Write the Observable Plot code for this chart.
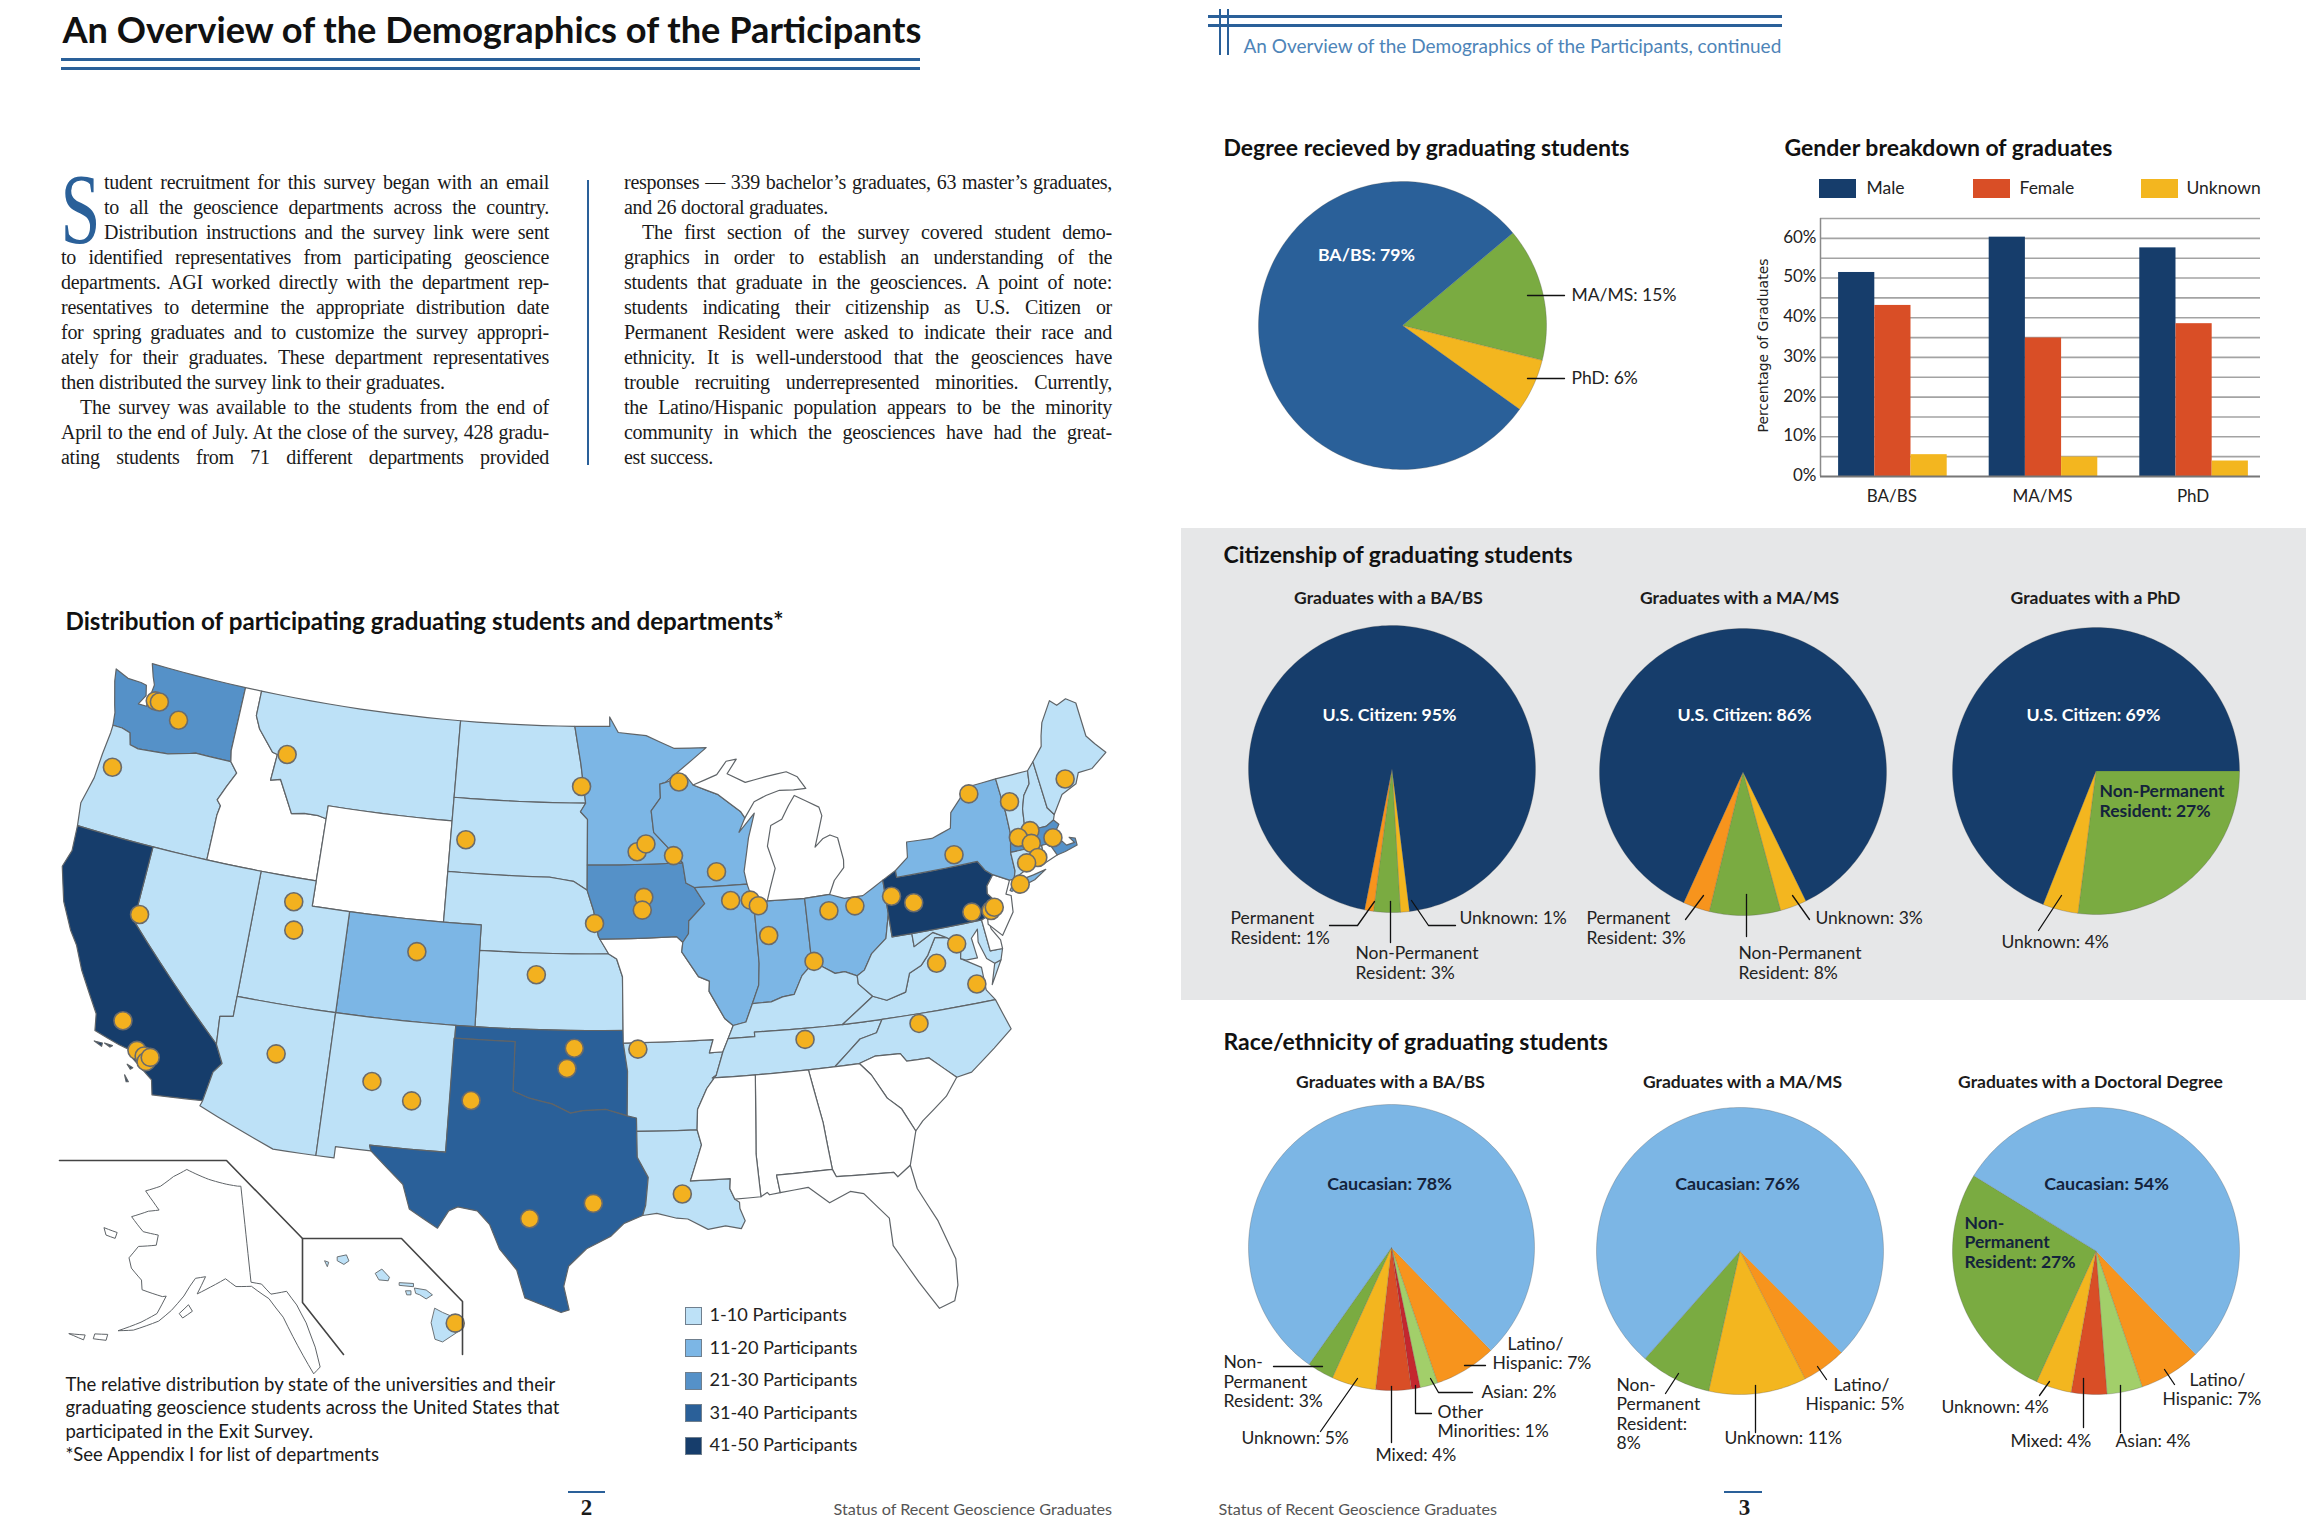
<!DOCTYPE html>
<html><head><meta charset="utf-8">
<script src="https://cdn.jsdelivr.net/npm/d3@7"></script>
<script src="https://cdn.jsdelivr.net/npm/@observablehq/plot@0.6"></script>
<style>
html,body{margin:0;padding:0;background:#fff;overflow:hidden}
#page{position:relative;width:2306px;height:1530px;overflow:hidden;background:#fff}
#page>div.abs{position:absolute}
#page svg{background:transparent;max-width:none}
.ln{position:absolute;font-family:"Liberation Serif",serif;font-size:20px;letter-spacing:-.27px;line-height:25px;white-space:nowrap;color:#1a1a1a;text-align:justify;text-align-last:justify}
.ln.end{text-align-last:left}
</style></head><body><div id="page"></div>
<script>
/* ---------- values ---------- */
const degreeCategories=["MA/MS","PhD","BA/BS"];
const degreeValues=[15,6,79];
const genderDegrees=["BA/BS","MA/MS","PhD"];
const genderNames=["Male","Female","Unknown"];
const genderMale=[51.4,60.3,57.6];
const genderFemale=[43.1,34.9,38.5];
const genderUnknown=[5.5,4.9,3.9];
const citizenCategoriesA=["Unknown","Non-Permanent Resident","Permanent Resident","U.S. Citizen"];
const citizenBA=[1,3,1,95];
const citizenMA=[3,8,3,86];
const citizenCategoriesB=["Non-Permanent Resident","Unknown","U.S. Citizen"];
const citizenPhD=[27,4,69];
const raceCategoriesBA=["Latino/Hispanic","Asian","Other Minorities","Mixed","Unknown","Non-Permanent Resident","Caucasian"];
const raceBA=[7,2,1,4,5,3,78];
const raceCategoriesMA=["Latino/Hispanic","Unknown","Non-Permanent Resident","Caucasian"];
const raceMA=[5,11,8,76];
const raceCategoriesPhD=["Latino/Hispanic","Asian","Mixed","Unknown","Non-Permanent Resident","Caucasian"];
const racePhD=[7,4,4,4,27,54];

const bodyLeft=[["tudent recruitment for this survey began with an email",104,0],["to all the geoscience departments across the country.",104,0],["Distribution instructions and the survey link were sent",104,0],["to identified representatives from participating geoscience",61,0],["departments. AGI worked directly with the department rep-",61,0],["resentatives to determine the appropriate distribution date",61,0],["for spring graduates and to customize the survey appropri-",61,0],["ately for their graduates. These department representatives",61,0],["then distributed the survey link to their graduates.",61,1],["The survey was available to the students from the end of",80,0],["April to the end of July. At the close of the survey, 428 gradu-",61,0],["ating students from 71 different departments provided",61,0]];
const bodyRight=[["responses — 339 bachelor’s graduates, 63 master’s graduates,",624,0],["and 26 doctoral graduates.",624,1],["The first section of the survey covered student demo-",642,0],["graphics in order to establish an understanding of the",624,0],["students that graduate in the geosciences. A point of note:",624,0],["students indicating their citizenship as U.S. Citizen or",624,0],["Permanent Resident were asked to indicate their race and",624,0],["ethnicity. It is well-understood that the geosciences have",624,0],["trouble recruiting underrepresented minorities. Currently,",624,0],["the Latino/Hispanic population appears to be the minority",624,0],["community in which the geosciences have had the great-",624,0],["est success.",624,1]];

const binNames=["1-10 Participants","11-20 Participants","21-30 Participants","31-40 Participants","41-50 Participants"];
const binColors=["#BDE1F7","#7CB6E5","#5591C8","#2A6099","#163D6B"];
const stateBins={OR:0,MT:0,ND:0,SD:0,NE:0,KS:0,NV:0,UT:0,AZ:0,NM:0,AR:0,LA:0,TN:0,KY:0,NC:0,VA:0,WV:0,ME:0,NH:0,VT:0,MD:0,CT:0,MN:1,WI:1,IL:1,IN:1,OH:1,NY:1,CO:1,WA:2,IA:2,MA:2,TX:3,OK:3,CA:4,PA:4};

/* state outlines, lon/lat */
const stateRings={
WA:[[[-124.73,48.38],[-123.9,48.16],[-123.1,48.15],[-122.75,48.1],[-122.6,47.7],[-122.9,47.3],[-122.4,47.3],[-122.35,47.8],[-122.3,48.2],[-122.5,48.5],[-122.77,49],[-117.03,49],[-117.04,46.42],[-116.92,45.99],[-118.98,46],[-119.3,45.93],[-120.5,45.7],[-121.2,45.65],[-122.2,45.58],[-122.7,45.65],[-122.9,46.1],[-123.4,46.2],[-123.95,46.2],[-124.05,46.7],[-124.2,47],[-124.6,47.9]]],
OR:[[[-123.95,46.2],[-123.4,46.2],[-122.9,46.1],[-122.7,45.65],[-122.2,45.58],[-121.2,45.65],[-120.5,45.7],[-119.3,45.93],[-118.98,46],[-116.92,45.99],[-116.46,45.6],[-116.85,45],[-117.2,44.4],[-116.95,44.2],[-117.03,43.8],[-117.03,42],[-124.21,42],[-124.4,42.9],[-124.1,44],[-124.05,45],[-123.95,45.9]]],
ID:[[[-117.03,49],[-116.05,49],[-116.05,48],[-115.7,47.5],[-114.7,46.7],[-114.4,46.65],[-114.5,45.6],[-113.95,45.7],[-113.45,45.05],[-113,44.45],[-112.3,44.55],[-111.5,44.55],[-111.05,44.48],[-111.05,42],[-117.03,42],[-117.03,43.8],[-116.95,44.2],[-117.2,44.4],[-116.85,45],[-116.46,45.6],[-116.92,45.99],[-117.04,46.42]]],
MT:[[[-116.05,49],[-104.05,49],[-104.05,45],[-111.05,45],[-111.05,44.48],[-111.5,44.55],[-112.3,44.55],[-113,44.45],[-113.45,45.05],[-113.95,45.7],[-114.5,45.6],[-114.4,46.65],[-114.7,46.7],[-115.7,47.5],[-116.05,48]]],
WY:[[[-111.05,45],[-104.05,45],[-104.05,41],[-111.05,41]]],
ND:[[[-104.05,49],[-97.23,49],[-96.85,47.5],[-96.56,45.94],[-104.05,45.94]]],
SD:[[[-104.05,45.94],[-96.56,45.94],[-96.85,45.6],[-96.45,45.3],[-96.45,43.5],[-96.45,42.5],[-97.2,42.85],[-98.5,42.99],[-104.05,43]]],
NE:[[[-104.05,43],[-98.5,43],[-97.2,42.85],[-96.45,42.5],[-96.1,41.7],[-95.85,40.7],[-95.31,40],[-102.05,40],[-102.05,41],[-104.05,41]]],
KS:[[[-102.05,40],[-95.31,40],[-94.9,39.8],[-94.61,39.1],[-94.62,37],[-102.04,37]]],
CO:[[[-109.05,41],[-102.05,41],[-102.04,37],[-109.05,37]]],
UT:[[[-114.05,42],[-111.05,42],[-111.05,41],[-109.05,41],[-109.05,37],[-114.05,37]]],
NV:[[[-120,42],[-114.05,42],[-114.05,36.2],[-114.7,36.1],[-114.6,35],[-120,39]]],
CA:[[[-124.21,42],[-120,42],[-120,39],[-114.6,35],[-114.15,34.3],[-114.5,33.9],[-114.72,32.72],[-117.12,32.53],[-117.3,33.1],[-118.4,33.75],[-118.5,34.03],[-119.2,34.15],[-120.5,34.45],[-120.65,35.1],[-121.9,36.6],[-122.5,37.5],[-123,38],[-123.75,39],[-124.35,40.3],[-124.1,41]],[[-120.4,34.05],[-120,34.05],[-120,33.92]],[[-119.9,34.07],[-119.5,34.05],[-119.6,33.97]],[[-118.6,33.48],[-118.3,33.4],[-118.4,33.32]],[[-118.6,33.05],[-118.35,32.82],[-118.45,32.8]]],
AZ:[[[-114.05,37],[-109.05,37],[-109.05,31.33],[-111.07,31.33],[-114.8,32.5],[-114.72,32.72],[-114.5,33.9],[-114.15,34.3],[-114.6,35],[-114.7,36.1],[-114.05,36.2]]],
NM:[[[-109.05,37],[-103,37],[-103.04,32],[-106.62,32],[-106.53,31.78],[-108.2,31.78],[-108.2,31.33],[-109.05,31.33]]],
OK:[[[-103,37],[-94.62,37],[-94.43,35.4],[-94.48,33.64],[-95.5,33.9],[-96.6,33.85],[-97.2,33.75],[-98.1,34.1],[-99.2,34.3],[-100,34.56],[-100,36.5],[-103,36.5]]],
TX:[[[-103.04,36.5],[-100,36.5],[-100,34.56],[-99.2,34.3],[-98.1,34.1],[-97.2,33.75],[-96.6,33.85],[-95.5,33.9],[-94.48,33.64],[-94.04,33.55],[-94.04,32],[-93.55,31.2],[-93.7,30.1],[-93.85,29.7],[-94.7,29.4],[-95.3,28.9],[-96.4,28.4],[-97.2,27.7],[-97.4,26.9],[-97.15,25.96],[-97.5,25.85],[-99.1,26.4],[-99.5,27.5],[-100.3,28.3],[-100.8,29.25],[-101.4,29.77],[-102.3,29.88],[-102.7,29.7],[-103.15,28.98],[-104.5,29.65],[-104.9,30.6],[-106.53,31.78],[-106.62,32],[-103.04,32]]],
AR:[[[-94.62,36.5],[-90.15,36.5],[-90.37,35.99],[-89.7,36],[-90.1,35.1],[-90.6,34.6],[-91.1,33.8],[-91.17,33],[-94.04,33.02],[-94.04,33.55],[-94.48,33.64],[-94.43,35.4]]],
LA:[[[-94.04,33.02],[-91.17,33],[-91,32.4],[-91.6,31],[-89.75,31],[-89.8,30.6],[-89.6,30.18],[-89.4,30.05],[-89.4,29.8],[-89.2,29.3],[-89.4,29],[-90.1,29.15],[-90.9,29.05],[-91.8,29.5],[-92.3,29.55],[-93.2,29.77],[-93.85,29.7],[-93.7,30.1],[-93.55,31.2],[-94.04,32]]],
MO:[[[-95.77,40.58],[-91.73,40.61],[-91.42,40.38],[-91.5,40],[-90.7,39],[-90.15,38.8],[-90.2,38.4],[-89.5,37.3],[-89.1,37],[-89.4,36.5],[-89.7,36],[-90.37,35.99],[-90.15,36.5],[-94.62,36.5],[-94.62,37],[-94.61,39.1],[-94.9,39.8],[-95.31,40]]],
IA:[[[-96.45,43.5],[-91.22,43.5],[-91.1,42.7],[-90.65,42.5],[-90.15,41.85],[-91.05,41.2],[-91.1,40.7],[-91.42,40.38],[-91.73,40.61],[-95.77,40.58],[-95.85,40.7],[-96.1,41.7],[-96.45,42.5]]],
MN:[[[-97.23,49],[-95.15,49],[-95.15,49.38],[-94.65,48.75],[-93,48.6],[-91.4,48.05],[-89.5,48],[-92,46.7],[-92.3,46.65],[-92.3,46.1],[-92.85,45.6],[-92.75,44.75],[-91.22,43.5],[-96.45,43.5],[-96.45,45.3],[-96.85,45.6],[-96.56,45.94],[-96.85,47.5]]],
WI:[[[-92,46.7],[-90.8,46.95],[-90.4,46.55],[-89,46.1],[-87.8,45.35],[-87.6,45.1],[-88,44.55],[-87.05,45.25],[-87.5,44.3],[-87.9,43],[-87.8,42.49],[-90.65,42.5],[-91.1,42.7],[-91.22,43.5],[-92.75,44.75],[-92.85,45.6],[-92.3,46.1],[-92.3,46.65]]],
IL:[[[-90.65,42.5],[-87.8,42.49],[-87.53,41.72],[-87.53,39.35],[-87.65,38.5],[-88.05,37.8],[-88.45,37.1],[-89.1,37],[-89.5,37.3],[-90.2,38.4],[-90.15,38.8],[-90.7,39],[-91.5,40],[-91.42,40.38],[-91.1,40.7],[-91.05,41.2],[-90.15,41.85]]],
IN:[[[-87.53,41.72],[-87.2,41.76],[-86.8,41.76],[-84.8,41.7],[-84.82,39.1],[-85.4,38.7],[-85.9,38],[-86.5,37.95],[-87.1,37.8],[-88.05,37.8],[-87.65,38.5],[-87.53,39.35]]],
MI:[[[-86.8,41.76],[-84.8,41.7],[-83.45,41.73],[-83.1,42.25],[-82.5,42.7],[-82.45,43],[-82.6,43.9],[-83,44.05],[-83.4,43.95],[-83.9,43.65],[-83.3,44.85],[-83.4,45.2],[-84.7,45.78],[-85.1,45.4],[-85.55,44.9],[-86.2,44.7],[-86.5,43.9],[-86.2,43],[-86.6,42.2]],[[-90.4,46.55],[-89,46.9],[-88.4,47.4],[-87.8,47.45],[-88.4,46.9],[-87.4,46.5],[-86.2,46.65],[-85,46.75],[-84.4,46.5],[-84,46],[-84.7,46],[-85.5,46.05],[-86.3,45.9],[-87,45.7],[-87.6,45.1],[-87.8,45.35],[-89,46.1]]],
OH:[[[-84.8,41.7],[-83.45,41.73],[-82.7,41.5],[-81.7,41.5],[-80.52,41.98],[-80.52,40.64],[-80.85,39.7],[-81.7,39.2],[-82.2,38.6],[-82.6,38.42],[-83.2,38.65],[-83.7,38.63],[-84.3,38.95],[-84.82,39.1]]],
KY:[[[-89.4,36.5],[-89.1,37],[-88.45,37.1],[-88.05,37.8],[-87.1,37.8],[-86.5,37.95],[-85.9,38],[-85.4,38.7],[-84.82,39.1],[-84.3,38.95],[-83.7,38.63],[-83.2,38.65],[-82.6,38.42],[-82.6,38.1],[-81.97,37.54],[-83.68,36.6],[-88.07,36.68],[-88.07,36.5]]],
TN:[[[-89.7,36],[-89.4,36.5],[-88.07,36.5],[-88.07,36.68],[-83.68,36.6],[-81.68,36.59],[-82.05,36.1],[-82.9,35.95],[-84.3,35],[-90.3,35],[-90.1,35.1]]],
VA:[[[-83.68,36.6],[-81.97,37.54],[-81.3,37.3],[-80.3,37.5],[-79.95,38.2],[-79.3,38.42],[-78.87,38.77],[-78.35,39.4],[-77.75,39.32],[-77.1,38.9],[-77.25,38.4],[-76.3,37.9],[-76.3,37],[-75.95,36.55],[-81.68,36.59]],[[-75.95,37.15],[-75.6,37.95],[-75.25,38.03]]],
WV:[[[-80.52,40.64],[-80.52,39.72],[-79.48,39.72],[-79.48,39.2],[-78.4,39.62],[-77.75,39.32],[-78.35,39.4],[-78.87,38.77],[-79.3,38.42],[-79.95,38.2],[-80.3,37.5],[-81.3,37.3],[-81.97,37.54],[-82.6,38.1],[-82.6,38.42],[-82.2,38.6],[-81.7,39.2],[-80.85,39.7]]],
MD:[[[-79.48,39.72],[-75.79,39.72],[-75.69,38.46],[-75.05,38.45],[-75.25,38.03],[-75.6,37.95],[-75.95,38.2],[-76.2,38.9],[-76.1,39.4],[-76.5,39.1],[-76.4,38.3],[-77,38.3],[-77.25,38.4],[-77.1,38.9],[-77.75,39.32],[-78.4,39.62],[-79.48,39.2]]],
DE:[[[-75.79,39.72],[-75.45,39.82],[-75.4,39.3],[-75.05,38.8],[-75.05,38.45],[-75.69,38.46]]],
PA:[[[-80.52,41.98],[-79.76,42.27],[-79.76,42],[-75.35,42],[-75.05,41.6],[-74.7,41.36],[-75.13,40.98],[-75.2,40.68],[-74.72,40.15],[-75.45,39.82],[-75.79,39.72],[-80.52,39.72]]],
NJ:[[[-74.7,41.36],[-73.9,41],[-74.25,40.5],[-74,40.4],[-74.1,39.75],[-74.9,38.95],[-75.5,39.5],[-75.45,39.82],[-74.72,40.15],[-75.2,40.68],[-75.13,40.98]]],
NY:[[[-79.76,42.27],[-79,42.7],[-78.9,43.3],[-77.5,43.25],[-76.4,43.5],[-76.2,44.1],[-75,44.95],[-73.35,45.01],[-73.25,43.6],[-73.27,42.75],[-73.5,42.05],[-73.5,41.3],[-73.65,41],[-73.9,41],[-74.7,41.36],[-75.05,41.6],[-75.35,42],[-79.76,42]],[[-74,40.6],[-73.7,40.88],[-72.6,40.98],[-71.9,41.07],[-72.6,40.78],[-73.9,40.55]]],
VT:[[[-73.35,45.01],[-71.5,45.01],[-71.6,44.5],[-72.05,44.1],[-72.3,43.6],[-72.46,42.73],[-73.27,42.75],[-73.25,43.6]]],
NH:[[[-71.5,45.01],[-71.08,45.3],[-70.98,43.4],[-70.7,43.07],[-70.82,42.87],[-71.3,42.7],[-72.46,42.73],[-72.3,43.6],[-72.05,44.1],[-71.6,44.5]]],
ME:[[[-71.08,45.3],[-70.4,45.8],[-70.25,46.2],[-70,46.7],[-69.23,47.46],[-68.9,47.2],[-68.3,47.35],[-67.8,47.07],[-67.8,45.7],[-67.45,45.3],[-67,44.85],[-68,44.4],[-68.8,44.4],[-69.1,44],[-70,43.75],[-70.7,43.07],[-70.98,43.4]]],
MA:[[[-73.5,42.05],[-73.27,42.75],[-72.46,42.73],[-71.3,42.7],[-70.82,42.87],[-70.6,42.65],[-71,42.3],[-70.65,41.95],[-70.5,41.78],[-70.05,41.8],[-70.25,42.05],[-69.95,41.95],[-69.95,41.67],[-70.65,41.55],[-71.12,41.5],[-71.38,42.02],[-71.8,42.02]]],
RI:[[[-71.8,42.02],[-71.38,42.02],[-71.12,41.5],[-71.85,41.32]]],
CT:[[[-73.5,42.05],[-71.8,42.02],[-71.85,41.32],[-72.9,41.25],[-73.65,41],[-73.5,41.3]]],
NC:[[[-84.3,35],[-82.9,35.95],[-82.05,36.1],[-81.68,36.59],[-75.95,36.55],[-75.5,35.3],[-76.5,34.7],[-77.8,33.95],[-78.55,33.86],[-79.7,34.8],[-80.8,34.82],[-81.05,35.15],[-82.3,35.2],[-83.1,35]]],
SC:[[[-83.1,35],[-82.3,35.2],[-81.05,35.15],[-80.8,34.82],[-79.7,34.8],[-78.55,33.86],[-79.2,33.2],[-80.5,32.4],[-80.9,32.05],[-81.4,33],[-82,33.5],[-82.6,34.5]]],
GA:[[[-85.6,35],[-83.1,35],[-82.6,34.5],[-82,33.5],[-81.4,33],[-80.9,32.05],[-81.4,30.75],[-82.05,30.37],[-82.2,30.57],[-84.86,30.7],[-85,31],[-85.1,32],[-85.18,32.87]]],
AL:[[[-88.2,35],[-85.6,35],[-85.18,32.87],[-85.1,32],[-85,31],[-87.6,31],[-87.5,30.3],[-88,30.25],[-88.1,30.35],[-88.4,30.2],[-88.47,31.9]]],
MS:[[[-90.3,35],[-88.2,35],[-88.47,31.9],[-88.4,30.2],[-89.6,30.18],[-89.8,30.6],[-89.75,31],[-91.6,31],[-91,32.4],[-91.17,33],[-91.1,33.8],[-90.6,34.6],[-90.1,35.1]]],
FL:[[[-87.6,31],[-85,31],[-84.86,30.7],[-82.2,30.57],[-82.05,30.37],[-81.4,30.75],[-81.25,29.8],[-80.55,28.4],[-80.05,26.8],[-80.15,25.75],[-80.4,25.15],[-81.1,24.95],[-81.8,26.1],[-82.7,27.7],[-82.7,28.8],[-83.7,29.9],[-84.3,30.05],[-85.3,29.7],[-86.2,30.4],[-87.5,30.3]]]
};
const alaskaRings=[[[-141,69.65],[-145,70],[-150,70.5],[-156.5,71.3],[-160,70.4],[-163,69.2],[-166.5,68.4],[-164,67.6],[-162,66.9],[-164.5,66.55],[-168,65.6],[-164.5,64.5],[-161,64.5],[-161,63.5],[-164.7,63],[-166,61.7],[-165,60.8],[-162.5,59.9],[-162,59],[-158,58.7],[-157.3,58.8],[-158.5,57],[-161,55.9],[-164.5,54.6],[-162,55],[-158,56.3],[-156,57.5],[-154,59],[-153,60],[-152,60.8],[-150,61],[-151.5,59.3],[-149,60],[-146,60.8],[-144,60],[-141,59.9],[-138,58.5],[-136,56.5],[-134.5,53.5],[-133,50.5],[-131.8,51],[-131.8,53],[-132.3,55.5],[-133.2,57.4],[-134.5,58.9],[-137.5,58.9],[-139,60],[-141,60.3]],[[-154.5,57.3],[-153,58.2],[-152.2,57.6],[-153.8,56.9]],[[-173,63.7],[-170,63.7],[-170,63.1],[-172,63.1]],[[-168,53.7],[-166,54],[-166,53.4],[-168,53.2]],[[-172,52.9],[-169.5,53.3],[-169.5,52.8]]];
const hawaiiRings={Kauai:[[-159.75,22.15],[-159.4,22.22],[-159.3,22],[-159.5,21.87],[-159.75,22]],Niihau:[[-160.25,22],[-160.1,21.95],[-160.15,21.8]],Oahu:[[-158.25,21.55],[-158,21.7],[-157.7,21.4],[-157.75,21.27],[-158.1,21.3]],Molokai:[[-157.3,21.2],[-156.75,21.17],[-156.75,21.05],[-157.3,21.1]],Lanai:[[-157.05,20.9],[-156.85,20.9],[-156.85,20.75],[-157,20.75]],Maui:[[-156.7,21],[-156.25,20.93],[-156,20.75],[-156.25,20.6],[-156.5,20.75],[-156.65,20.8]],Hawaii:[[-155.9,20.25],[-155.6,20.1],[-155.1,19.9],[-154.8,19.5],[-155.6,19],[-155.9,19.1],[-156.05,19.7]]};

/* participating departments, lon/lat */
const deptLon=[-122,-121.75,-120.4,-123.3,-113.85,-119.8,-119.3,-118.3,-117.9,-117.75,-117.6,-112.05,-111.8,-105.3,-99.05,-111.65,-106.85,-104.85,-102,-96.1,-99,-97.05,-97.4,-103.2,-96.8,-96.05,-93.4,-93.5,-93.7,-93.2,-91.7,-91.2,-89.4,-88.75,-87.7,-87.3,-86.9,-83.6,-82.2,-84.7,-80.2,-79.1,-76.2,-75.2,-75,-76.5,-75,-72.9,-72.2,-72.9,-72.3,-71.1,-72.15,-72.8,-69.6,-73.4,-77.3,-78.5,-76.7,-79.9,-85.6,-93.9,-92];
const deptLat=[47.6,47.6,47.1,44.6,46.72,39.3,35.1,34.1,33.95,33.75,33.95,41.05,39.95,39.75,39.15,35.05,34.5,33.9,34.1,30.2,29.55,36.3,35.5,44.3,46.6,41.2,42.2,41.7,44,44.3,43.8,46.7,43.07,41.9,41.85,41.6,40.4,41.1,41.15,39.2,41.3,40.9,40.1,40,40.1,42.45,44.67,44,42.7,42.55,42.2,42.2,41.6,41.5,44.3,40.75,39,38.4,37.3,36.2,36.2,36.25,30.5];
const hawaiiDeptLon=[-155.1];
const hawaiiDeptLat=[19.7];

/* ---------- colours ---------- */
const C={navy:"#163D6B",blue:"#2A6099",sky:"#7CB6E5",green:"#7AAB41",yellow:"#F3B61F",orange:"#F7941D",lime:"#A2CF6A",red:"#C4272E",vermil:"#D94E26"};
const sliceColor={"BA/BS":C.blue,"MA/MS":C.green,"PhD":C.yellow,"U.S. Citizen":C.navy,"Unknown":C.yellow,"Non-Permanent Resident":C.green,"Permanent Resident":C.orange,"Caucasian":C.sky,"Latino/Hispanic":C.orange,"Asian":C.lime,"Other Minorities":C.red,"Mixed":C.vermil};

/* ---------- helpers ---------- */
const page=document.getElementById("page");
function place(node,x,y){const d=document.createElement("div");d.className="abs";d.style.left=x+"px";d.style.top=y+"px";d.append(node);page.append(d);return d;}
function box(x,y,w,h,c,extra){const d=document.createElement("div");d.style.cssText=`position:absolute;left:${x}px;top:${y}px;width:${w}px;height:${h}px;background:${c};${extra||""}`;page.append(d);}

function pie(cats,vals,startDeg,cx,cy,r){
  const pad=3,S=2*(r+pad),k=(r+pad)/r,rows=[];
  let a=startDeg;
  cats.forEach((c,i)=>{
    const sweep=vals[i]/d3.sum(vals)*360,n=Math.max(2,Math.ceil(sweep/1.5));
    rows.push({c,px:0,py:0});
    for(let j=0;j<=n;j++){const t=(a+sweep*j/n)*Math.PI/180;rows.push({c,px:Math.sin(t),py:Math.cos(t)});}
    a+=sweep;
  });
  const p=Plot.plot({width:S,height:S,margin:0,style:{background:"transparent"},
    x:{domain:[-k,k],axis:null},y:{domain:[-k,k],axis:null},color:{type:"identity"},
    marks:[Plot.line(rows,{x:"px",y:"py",z:"c",fill:d=>sliceColor[d.c],stroke:"#4a4a4a",strokeOpacity:.35,strokeWidth:.8,curve:"linear"})]});
  place(p,cx-r-pad,cy-r-pad);
}
function densify(ring){
  const out=[];
  const closed=ring.concat([ring[0]]);
  for(let i=0;i<ring.length;i++){
    const [a,b]=[closed[i],closed[i+1]];
    const n=Math.ceil(Math.max(Math.abs(a[0]-b[0]),Math.abs(a[1]-b[1])));
    for(let j=0;j<Math.max(n,1);j++)out.push([a[0]+(b[0]-a[0])*j/Math.max(n,1),a[1]+(b[1]-a[1])*j/Math.max(n,1)]);
  }
  out.push(out[0].slice());
  return out;
}
function feature(id,rings){
  const polys=rings.map(r=>{
    let d=densify(r);
    if(d3.geoArea({type:"Polygon",coordinates:[d]})>2*Math.PI)d=d.slice().reverse();
    return [d];
  });
  return {type:"Feature",id,properties:{},geometry:{type:"MultiPolygon",coordinates:polys}};
}
const stateFeatures=Object.entries(stateRings).map(([k,v])=>feature(k,v));
const alaskaFeature=[feature("AK",alaskaRings)];
const hawaiiFeatures=Object.entries(hawaiiRings).map(([k,v])=>feature(k,[v]));
const deptRows=deptLon.map((lon,i)=>({lon,lat:deptLat[i]}));
const hiRows=hawaiiDeptLon.map((lon,i)=>({lon,lat:hawaiiDeptLat[i]}));
const geoFill=d=>{const b=stateBins[d.id];return b===undefined?"#fff":binColors[b];};
const dotStyle={x:"lon",y:"lat",r:9,fill:"#F3B11F",stroke:"#6b6b6b",strokeWidth:1.6};

/* ---------- panel + rules ---------- */
box(1181,528,1125,472,"#E6E7E8");
box(61,58,859,2.5,C.blue);box(61,67,859,2.5,C.blue);
box(587,180,2,285,C.blue);
box(1208,15,574,2.5,C.blue);box(1208,24,574,2.5,C.blue);
box(1219,9,1.6,46,C.blue);box(1227,9,1.6,46,C.blue);
box(568,1491,37,2,C.blue);box(1724,1491,38,2,C.blue);

/* ---------- body text ---------- */
[...bodyLeft.map(l=>[...l,549]),...bodyRight.map(l=>[...l,1112])].forEach(([t,x,end,right],i)=>{
  const col=i<12?i:i-12;
  const d=document.createElement("div");
  d.className="ln"+(end?" end":"");
  d.textContent=t;
  d.style.left=x+"px";d.style.top=(170+col*25)+"px";d.style.width=(right-x)+"px";
  page.append(d);
});

/* ---------- map ---------- */
const mapMarks=[Plot.geo(stateFeatures,{fill:geoFill,stroke:"#5f6468",strokeWidth:1.2}),Plot.dot(deptRows,dotStyle)];
place(Plot.plot({width:1180,height:1530,margin:0,style:{background:"transparent"},color:{type:"identity"},
  projection:()=>d3.geoAlbers().parallels([29.5,45.5]).rotate([96,0]).center([0,37]).scale(1447).translate([595,1030]),
  marks:mapMarks}),0,0);
place(Plot.plot({width:1180,height:1530,margin:0,style:{background:"transparent"},color:{type:"identity"},
  projection:()=>d3.geoConicEqualArea().parallels([55,65]).rotate([148,0]).center([0,62]).scale(590).translate([215,1266]),
  marks:[Plot.geo(alaskaFeature,{fill:"#fff",stroke:"#5f6468",strokeWidth:1})]}),0,0);
place(Plot.plot({width:1180,height:1530,margin:0,style:{background:"transparent"},color:{type:"identity"},
  projection:()=>d3.geoMercator().center([-157.5,20.8]).scale(1450).translate([394,1293]),
  marks:[Plot.geo(hawaiiFeatures,{fill:binColors[0],stroke:"#5f6468",strokeWidth:.9}),Plot.dot(hiRows,dotStyle)]}),0,0);

/* ---------- pies ---------- */
pie(degreeCategories,degreeValues,50,1402,325,144);
pie(citizenCategoriesA,citizenBA,173,1391,768,143.5);
pie(citizenCategoriesA,citizenMA,154,1742,771,143.5);
pie(citizenCategoriesB,citizenPhD,90,2095,770,143.5);
pie(raceCategoriesBA,raceBA,136,1391,1247,143);
pie(raceCategoriesMA,raceMA,135,1739,1250,143.5);
pie(raceCategoriesPhD,racePhD,136,2095.5,1250,143.5);

/* ---------- bars ---------- */
const barUnit=36.2,groupStep=4.16,groupStart=.5;
const genderRows=genderDegrees.flatMap((g,i)=>[genderMale[i],genderFemale[i],genderUnknown[i]].map((v,j)=>({g,name:genderNames[j],v,x1:groupStart+i*groupStep+j,x2:groupStart+i*groupStep+j+1})));
const barColor={Male:C.navy,Female:C.vermil,Unknown:C.yellow};
place(Plot.plot({width:510,height:310,marginLeft:60,marginRight:10,marginTop:18,marginBottom:34,style:{background:"transparent",fontFamily:"Lato",color:"#222"},
  x:{domain:[0,440/barUnit],axis:null},y:{domain:[0,65],axis:null},color:{type:"identity"},
  marks:[
    Plot.ruleY(d3.range(5,70,5),{stroke:"#a3a3a3",strokeWidth:1.6}),
    Plot.rectY(genderRows,{x1:"x1",x2:"x2",y:"v",fill:d=>barColor[d.name]}),
    Plot.ruleX([0],{stroke:"#8a8a8a",strokeWidth:1.5}),
    Plot.ruleY([0],{stroke:"#777",strokeWidth:2}),
    Plot.axisY({ticks:d3.range(0,70,10),tickFormat:d=>d+"%",tickSize:0,tickPadding:4,label:null,fontSize:17,dy:-1}),
    Plot.axisX({ticks:genderDegrees.map((g,i)=>groupStart+i*groupStep+1.5),tickFormat:(d,i)=>genderDegrees[i],tickSize:0,tickPadding:13,label:null,fontSize:17,dx:-1})
  ]}),1760,200);

/* ---------- legends ---------- */
binColors.forEach((c,i)=>box(685,1307+i*32.4,17,18,c,"box-sizing:border-box;border:1px solid #6f7f8e;"));
[[1819,C.navy],[1973,C.vermil],[2141,C.yellow]].forEach(([x,c])=>box(x,179,37,19,c));

/* ---------- overlay: annotation text and leader lines ---------- */
const leaders=[
 [[1527,295],[1564,295]],[[1527,378],[1564,378]],
 [[1329,925],[1357,925],[1374,901]],[[1390,901],[1390,942]],[[1411,900],[1428,925],[1455,925]],
 [[1703,895],[1685,919]],[[1746,894],[1746,936]],[[1792,895],[1809,919]],[[2061,895],[2038,930]],
 [[1464,1365],[1485,1365]],[[1273,1366],[1322,1366]],[[1430,1378],[1438,1392],[1472,1392]],[[1415,1385],[1415,1413],[1431,1413]],[[1391,1386],[1391,1442]],[[1357,1378],[1320,1431]],
 [[1678,1373],[1665,1393]],[[1817,1366],[1826,1379]],[[1755,1385],[1755,1432]],
 [[2164,1369],[2174,1384]],[[2049,1381],[2039,1395]],[[2083,1378],[2083,1427]],[[2120,1385],[2120,1432]]
];
const insetFrames=[[[59,1160],[226,1160],[302,1238],[401,1238],[462,1301],[462,1354]],[[302,1238],[302,1302],[343,1354]]];
const toRows=a=>a.flatMap((l,i)=>l.map(([x,y])=>({i,x,y})));
const T={
 drop:[["S",60,242]],
 title:[["An Overview of the Demographics of the Participants",62,32]],
 header:[["An Overview of the Demographics of the Participants, continued",1243,47]],
 h2:[["Degree recieved by graduating students",1223,149],["Gender breakdown of graduates",1784,149],["Citizenship of graduating students",1223,556],["Race/ethnicity of graduating students",1223,1043]],
 h2b:[["Distribution of participating graduating students and departments*",65,623]],
 sub:[["Graduates with a BA/BS",1388,599],["Graduates with a MA/MS",1739,599],["Graduates with a PhD",2095,599],["Graduates with a BA/BS",1390,1083],["Graduates with a MA/MS",1742,1083],["Graduates with a Doctoral Degree",2090,1083]],
 white:[["BA/BS: 79%",1366,256],["U.S. Citizen: 95%",1389,716],["U.S. Citizen: 86%",1744,716],["U.S. Citizen: 69%",2093,716]],
 dark:[["Caucasian: 78%",1389,1185],["Caucasian: 76%",1737,1185],["Caucasian: 54%",2106,1185]],
 inner:[["Non-Permanent",2099,792],["Resident: 27%",2099,812],["Non-",1964,1224],["Permanent",1964,1243],["Resident: 27%",1964,1263]],
 lab:[["MA/MS: 15%",1571,296],["PhD: 6%",1571,379],["Male",1866,189],["Female",2019,189],["Unknown",2186,189],
  ["Permanent",1230,919],["Resident: 1%",1230,939],["Non-Permanent",1355,954],["Resident: 3%",1355,974],["Unknown: 1%",1459,919],
  ["Permanent",1586,919],["Resident: 3%",1586,939],["Non-Permanent",1738,954],["Resident: 8%",1738,974],["Unknown: 3%",1815,919],["Unknown: 4%",2001,943],
  ["Latino/",1507,1345],["Hispanic: 7%",1492,1364],["Non-",1223,1363],["Permanent",1223,1383],["Resident: 3%",1223,1402],["Asian: 2%",1481,1393],["Other",1437,1413],["Minorities: 1%",1437,1432],["Mixed: 4%",1375,1456],["Unknown: 5%",1241,1439],
  ["Non-",1616,1386],["Permanent",1616,1405],["Resident:",1616,1425],["8%",1616,1444],["Latino/",1833,1386],["Hispanic: 5%",1805,1405],["Unknown: 11%",1724,1439],
  ["Latino/",2189,1381],["Hispanic: 7%",2162,1400],["Unknown: 4%",1941,1408],["Mixed: 4%",2010,1442],["Asian: 4%",2115,1442]],
 legend:binNames.map((b,i)=>[b,709,1316+i*32.4]),
 cap:[["The relative distribution by state of the universities and their",65,1386],["graduating geoscience students across the United States that",65,1409],["participated in the Exit Survey.",65,1433],["*See Appendix I for list of departments",65,1456]],
 foot:[["Status of Recent Geoscience Graduates",833,1510],["Status of Recent Geoscience Graduates",1218,1510]],
 num:[["2",586,1508],["3",1744,1508]],
 yaxis:[["Percentage of Graduates",1763,346]]
};
const styleOf={
 drop:{fontSize:100,fontWeight:400,fill:C.blue,textAnchor:"start",fontFamily:"Liberation Serif",lineAnchor:"bottom"},
 title:{fontSize:36.2,fontWeight:700,fill:"#111",textAnchor:"start"},
 header:{fontSize:19,fontWeight:400,fill:"#4d84b8",textAnchor:"start"},
 h2:{fontSize:23,fontWeight:700,fill:"#111",textAnchor:"start"},
 h2b:{fontSize:24.2,fontWeight:700,fill:"#111",textAnchor:"start"},
 sub:{fontSize:17.5,fontWeight:700,fill:"#1b1b1b",textAnchor:"middle"},
 white:{fontSize:17.7,fontWeight:700,fill:"#fff",textAnchor:"middle"},
 dark:{fontSize:17.9,fontWeight:700,fill:"#14233c",textAnchor:"middle"},
 inner:{fontSize:17.5,fontWeight:700,fill:"#14233c",textAnchor:"start"},
 lab:{fontSize:17.5,fontWeight:400,fill:"#222",textAnchor:"start"},
 legend:{fontSize:18.2,fontWeight:400,fill:"#222",textAnchor:"start"},
 cap:{fontSize:18.5,fontWeight:400,fill:"#1a1a1a",textAnchor:"start"},
 foot:{fontSize:16.2,fontWeight:400,fill:"#555",textAnchor:"start"},
 num:{fontSize:23,fontWeight:700,fill:"#1a1a1a",textAnchor:"middle",fontFamily:"Liberation Serif"},
 yaxis:{fontSize:14,fontWeight:400,fill:"#222",textAnchor:"middle",fontFamily:"DejaVu Sans",rotate:-90}
};
const overlay=Plot.plot({width:2306,height:1530,margin:0,style:{background:"transparent"},
  x:{domain:[0,2306],axis:null},y:{domain:[0,1530],range:[0,1530],axis:null},
  marks:[
    Plot.line(toRows(leaders),{x:"x",y:"y",z:"i",stroke:"#111",strokeWidth:1.3}),
    Plot.line(toRows(insetFrames),{x:"x",y:"y",z:"i",stroke:"#444",strokeWidth:1.6}),
    ...Object.entries(T).map(([k,rows])=>Plot.text(rows,{x:d=>d[1],y:d=>d[2],text:d=>d[0],lineAnchor:"middle",fontFamily:"Lato",dy:-1,...styleOf[k]}))
  ]});
place(overlay,0,0);
/* narrow drop cap, matching the reference's tall condensed initial */
overlay.querySelectorAll("text").forEach(t=>{
  if(t.textContent==="S"){t.setAttribute("textLength","40");t.setAttribute("lengthAdjust","spacingAndGlyphs");}
});
</script></body></html>
